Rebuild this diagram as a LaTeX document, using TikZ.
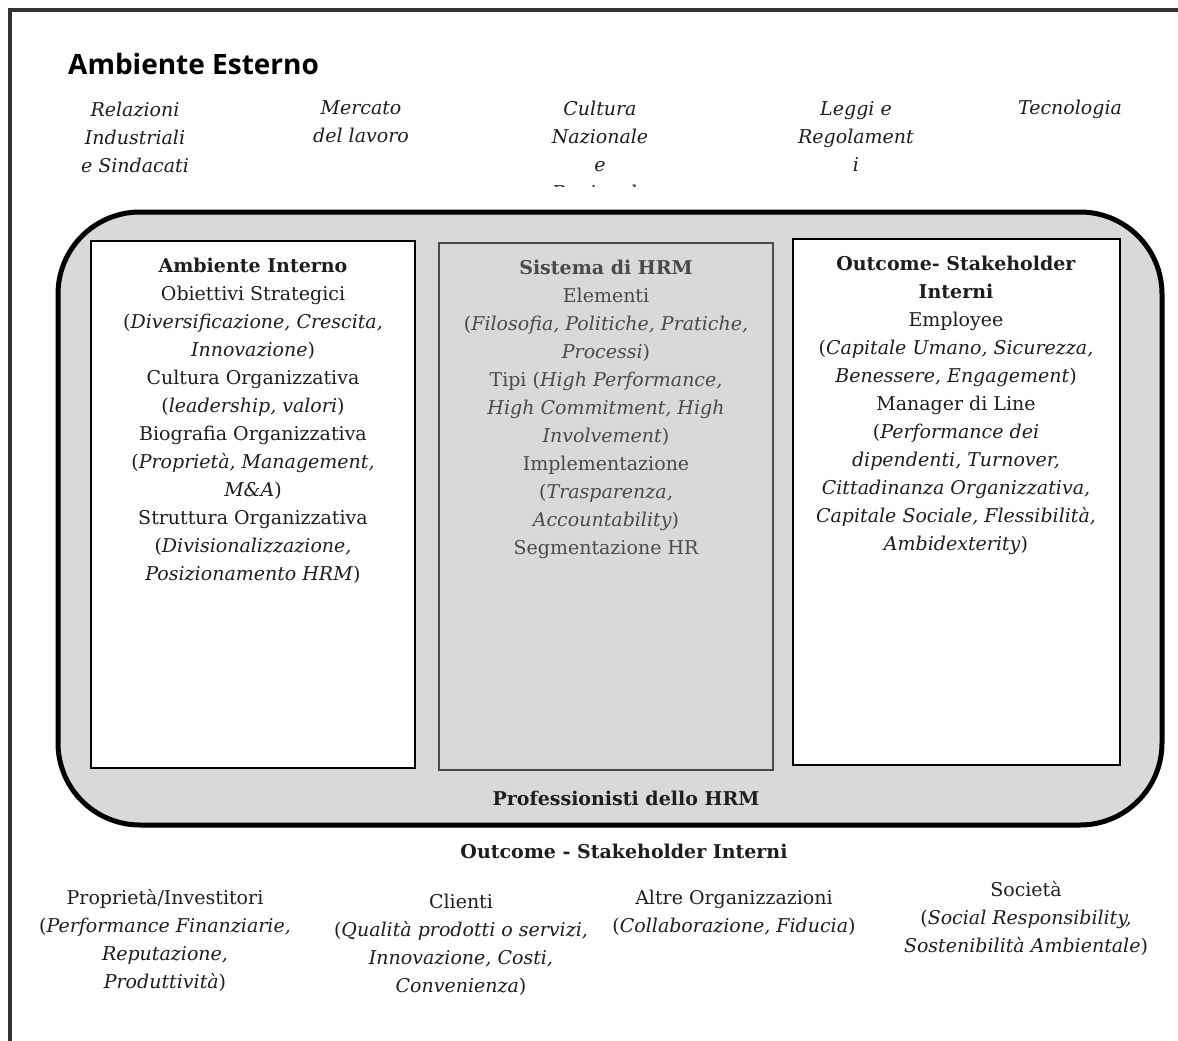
\documentclass[tikz,border=0pt]{standalone}
\usepackage{fontspec}
\setmainfont{DejaVu Serif}
\newfontfamily\headsans{Open Sans}
\definecolor{panel}{HTML}{D9D9D9}
\definecolor{ink}{HTML}{1E1E1E}
\definecolor{greyink}{HTML}{4A4A4A}
\definecolor{frame}{HTML}{333333}
\tikzset{
  bodytext/.style={align=center, inner sep=0pt, text=ink, font=\fontsize{19}{28}\selectfont},
  exttext/.style={bodytext, font=\fontsize{19}{28}\selectfont\itshape},
  greytext/.style={bodytext, text=greyink},
  boldtext/.style={bodytext, font=\fontsize{19}{28}\selectfont\bfseries},
  innerbox/.style={draw=black, line width=1.3pt, fill=white},
}
\begin{document}
\begin{tikzpicture}[x=1pt,y=-1pt]
\useasboundingbox (0,0) rectangle (1178,1041);
\fill[white] (0,0) rectangle (1178,1041);
% outer frame
\draw[frame, line width=4pt] (10,1045) -- (10,10) -- (1182,10);
% title
\node[anchor=west, inner sep=0pt, text=black, font=\headsans\bfseries\fontsize{28}{32}\selectfont] (title) at (68,64) {Ambiente Esterno};
% external factors
\node[exttext] (rel) at (135,137) {Relazioni\\Industriali\\e Sindacati};
\node[exttext] (merc) at (361,122) {Mercato\\del lavoro};
\begin{scope}
  \clip (480,90) rectangle (720,186);
  \node[exttext] (cult) at (600,152) {Cultura\\Nazionale\\e\\Regionale};
\end{scope}
\node[exttext] (leggi) at (856,137) {Leggi e\\Regolament\\i};
\node[exttext] (tec) at (1070,109) {Tecnologia};
% big rounded panel
\draw[line width=5pt, fill=panel, rounded corners=82pt] (58,212) rectangle (1162,825);
% inner boxes
\draw[innerbox] (91,241) rectangle (415,768);
\draw[draw=greyink, line width=1.3pt, fill=panel] (439,243) rectangle (773,770);
\draw[innerbox] (793,239) rectangle (1120,765);
% left box text
\node[bodytext] (amb) at (253,421) {\textbf{Ambiente Interno}\\
Obiettivi Strategici\\
(\textit{Diversificazione, Crescita,}\\
\textit{Innovazione})\\
Cultura Organizzativa\\
(\textit{leadership, valori})\\
Biografia Organizzativa\\
(\textit{Proprietà, Management,}\\
\textit{M\&A})\\
Struttura Organizzativa\\
(\textit{Divisionalizzazione,}\\
\textit{Posizionamento HRM})};
% middle box text
\node[greytext] (hrm) at (606,409) {\textbf{Sistema di HRM}\\
Elementi\\
(\textit{Filosofia, Politiche, Pratiche,}\\
\textit{Processi})\\
Tipi (\textit{High Performance,}\\
\textit{High Commitment, High}\\
\textit{Involvement})\\
Implementazione\\
(\textit{Trasparenza,}\\
\textit{Accountability})\\
Segmentazione HR};
% right box text
\node[bodytext] (outi) at (956,405) {\textbf{Outcome- Stakeholder}\\
\textbf{Interni}\\
Employee\\
(\textit{Capitale Umano, Sicurezza,}\\
\textit{Benessere, Engagement})\\
Manager di Line\\
(\textit{Performance dei}\\
\textit{dipendenti, Turnover,}\\
\textit{Cittadinanza Organizzativa,}\\
\textit{Capitale Sociale, Flessibilità,}\\
\textit{Ambidexterity})};
% bottom of panel
\node[boldtext] (prof) at (626,798) {Professionisti dello HRM};
\node[boldtext] (oute) at (624,851) {Outcome - Stakeholder Interni};
% external stakeholders
\node[bodytext] (prop) at (165,940) {Proprietà/Investitori\\
(\textit{Performance Finanziarie,}\\
\textit{Reputazione,}\\
\textit{Produttività})};
\node[bodytext] (cli) at (461,945) {Clienti\\
(\textit{Qualità prodotti o servizi,}\\
\textit{Innovazione, Costi,}\\
\textit{Convenienza})};
\node[bodytext] (altre) at (734,913) {Altre Organizzazioni\\
(\textit{Collaborazione, Fiducia})};
\node[bodytext] (soc) at (1026,918) {Società\\
(\textit{Social Responsibility,}\\
\textit{Sostenibilità Ambientale})};
\end{tikzpicture}
\end{document}
